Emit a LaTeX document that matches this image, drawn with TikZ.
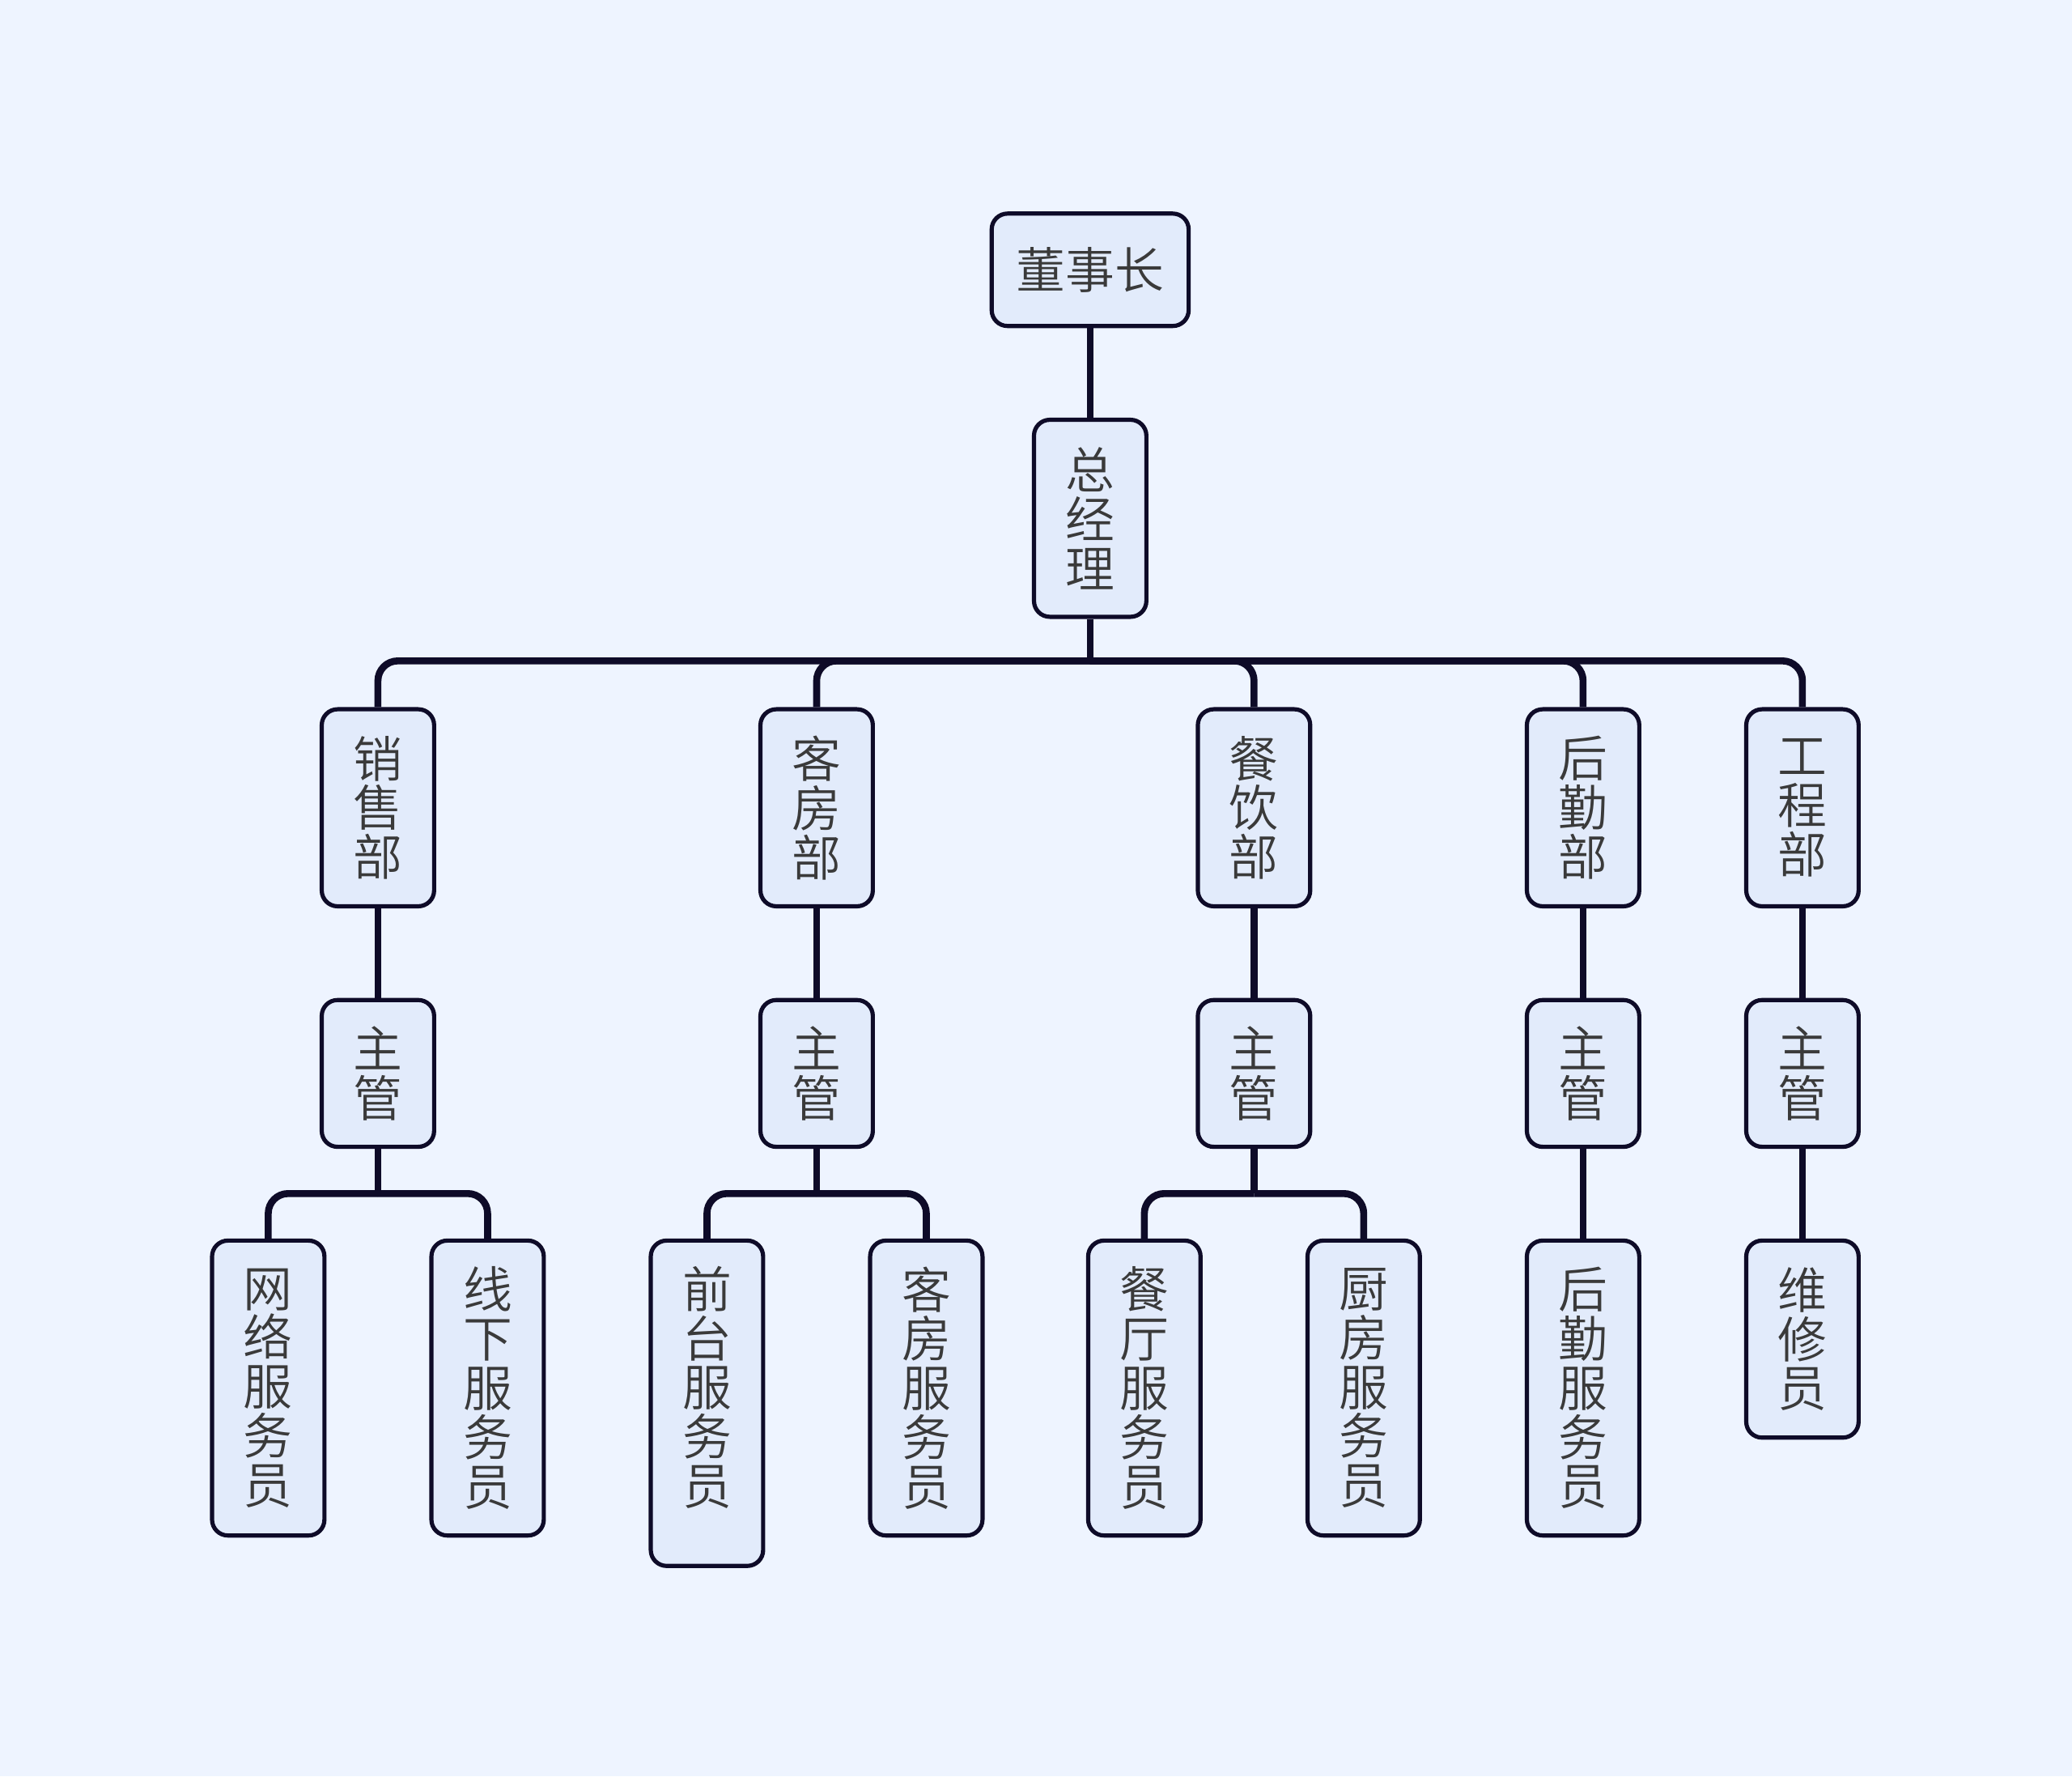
\documentclass[tikz,border=0pt]{standalone}
\usepackage{fontspec}
\setmainfont{Noto Sans CJK SC}[UprightFont=* DemiLight]
\usetikzlibrary{positioning,calc}
\definecolor{orgbg}{HTML}{EEF4FF}
\definecolor{orgfill}{HTML}{E2EBFB}
\definecolor{orgline}{HTML}{0E0B28}
\definecolor{orgtext}{HTML}{3A3A3A}

\begin{document}
\begin{tikzpicture}[x=0.01cm, y=-0.01cm,
    box/.style={draw=orgline, fill=orgfill, line width=0.9pt, rounded corners=0.12cm,
      text=orgtext, font=\fontsize{10.6}{10.6}\selectfont, align=center,
      inner sep=0pt, minimum width=0.85cm, anchor=north},
    tall2/.style={box, minimum height=1.11cm},
    tall3/.style={box, minimum height=1.49cm},
    tall5/.style={box, minimum height=2.23cm},
    link/.style={orgline, line width=1.5pt, rounded corners=0.15cm}]
    % Background
    \fill[orgbg] (0,0) rectangle (1568,1344);
    % Top of the tree
    \node[box, minimum width=1.49cm, minimum height=0.85cm] (chair) at (825,160) {董事长};
    \node[tall3] (gm) at (825,316) {总\\经\\理};
    % Departments
    \node[tall3] (sales) at (286,535) {销\\售\\部};
    \node[tall3] (rooms) at (618,535) {客\\房\\部};
    \node[tall3] (food) at (949,535) {餐\\饮\\部};
    \node[tall3] (logis) at (1198,535) {后\\勤\\部};
    \node[tall3] (eng) at (1364,535) {工\\程\\部};
    % Supervisors
    \node[tall2] (salesmgr) at (286,755) {主\\管};
    \node[tall2] (roomsmgr) at (618,755) {主\\管};
    \node[tall2] (foodmgr) at (949,755) {主\\管};
    \node[tall2] (logismgr) at (1198,755) {主\\管};
    \node[tall2] (engmgr) at (1364,755) {主\\管};
    % Staff
    \node[tall5] (online) at (203,937) {网\\络\\服\\务\\员};
    \node[tall5] (offline) at (369,937) {线\\下\\服\\务\\员};
    \node[tall5, minimum height=2.46cm, text depth=0.27cm] (desk) at (535,937) {前\\台\\服\\务\\员};
    \node[tall5] (housekeep) at (701,937) {客\\房\\服\\务\\员};
    \node[tall5] (dining) at (866,937) {餐\\厅\\服\\务\\员};
    \node[tall5] (kitchen) at (1032,937) {厨\\房\\服\\务\\员};
    \node[tall5] (logstaff) at (1198,937) {后\\勤\\服\\务\\员};
    \node[tall3] (repair) at (1364,937) {维\\修\\员};
    % Links, top
    \coordinate (hub) at (825,500);
    \draw[link] (chair) -- (gm);
    \draw[link] (gm) -- (hub);
    \foreach \d in {sales,rooms,food,logis,eng}
        \draw[link] (hub) -| (\d.north);
    % Links, departments to supervisors
    \foreach \d in {sales,rooms,food,logis,eng}
        \draw[link] (\d) -- (\d mgr);
    % Links, supervisors to staff
    \coordinate (salesbus) at (286,903);
    \coordinate (roomsbus) at (618,903);
    \coordinate (foodbus) at (949,903);
    \draw[link] (salesmgr) -- (salesbus);
    \draw[link] (salesbus) -| (online.north);
    \draw[link] (salesbus) -| (offline.north);
    \draw[link] (roomsmgr) -- (roomsbus);
    \draw[link] (roomsbus) -| (desk.north);
    \draw[link] (roomsbus) -| (housekeep.north);
    \draw[link] (foodmgr) -- (foodbus);
    \draw[link] (foodbus) -| (dining.north);
    \draw[link] (foodbus) -| (kitchen.north);
    \draw[link] (logismgr) -- (logstaff);
    \draw[link] (engmgr) -- (repair);
\end{tikzpicture}
\end{document}
